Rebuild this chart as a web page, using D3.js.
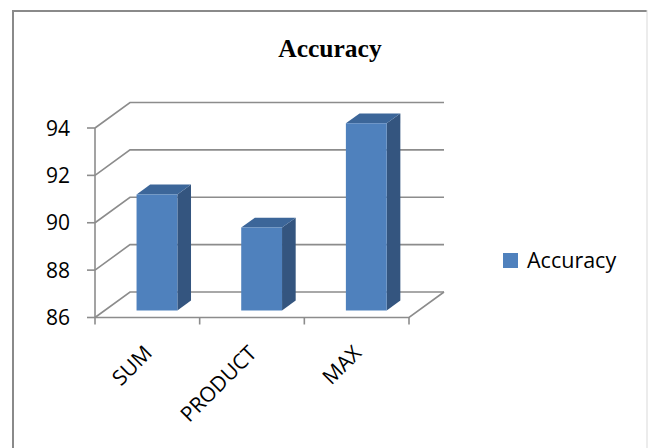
<!DOCTYPE html>
<html lang="en">
<meta charset="utf-8">
<title>Accuracy</title>
<style>
  body { margin: 0; background: #fff; }
  text { font-family: "Open Sans", "Liberation Sans", sans-serif; fill: #000; }
</style>
<body>
<script src="https://d3js.org/d3.v7.min.js"></script>
<script>
  // chart data
  var categories = ["SUM", "PRODUCT", "MAX"];
  var accuracy = [90.9, 89.5, 93.9];
  var yTicks = [86, 88, 90, 92, 94];
  var seriesName = "Accuracy";

  var width = 648, height = 448;

  // front plane of the 3d box
  var x = d3.scaleBand().domain(categories).range([95, 409]);
  var y = d3.scaleLinear().domain([86, 94]).range([317.5, 128]);

  // vector from the front plane to the back wall
  var depth = { dx: 35, dy: -25.5 };
  var barFront = 0.275, barBack = 0.665, barWidth = 0.39;

  function pt(px, py, f) {
    return [px + depth.dx * f, py + depth.dy * f];
  }

  var svg = d3.select("body").append("svg")
    .attr("width", width)
    .attr("height", height);

  // outer frame
  svg.append("line").attr("x1", 12).attr("x2", 647).attr("y1", 11).attr("y2", 11)
    .attr("stroke", "#8a8a8a").attr("stroke-width", 2);
  svg.append("line").attr("x1", 13).attr("x2", 13).attr("y1", 10).attr("y2", height)
    .attr("stroke", "#8a8a8a").attr("stroke-width", 2);
  svg.append("line").attr("x1", 647).attr("x2", 647).attr("y1", 10).attr("y2", height)
    .attr("stroke", "#d9d9d9").attr("stroke-width", 1);

  // title
  svg.append("text")
    .attr("x", 330).attr("y", 57)
    .attr("text-anchor", "middle")
    .style("font-family", "'Liberation Serif', 'Times New Roman', serif")
    .style("font-weight", "bold")
    .style("font-size", "25.5px")
    .text("Accuracy");

  var grid = svg.append("g")
    .attr("fill", "none")
    .attr("stroke", "#8c8c8c")
    .attr("stroke-width", 1.6);

  var x0 = x.range()[0], x1 = x.range()[1];

  // gridlines: diagonal on the side wall, then along the back wall
  yTicks.forEach(function(t) {
    var a = [x0, y(t)], b = pt(x0, y(t), 1), c = pt(x1, y(t), 1);
    grid.append("path").attr("d", d3.line()([a, b, c]));
  });

  // floor: front edge and right diagonal
  grid.append("path").attr("d", d3.line()([[x0, y(86)], [x1, y(86)], pt(x1, y(86), 1)]));

  // y axis line and ticks
  grid.append("path").attr("d", d3.line()([[x0, y(94)], [x0, y(86)]]));
  yTicks.forEach(function(t) {
    grid.append("path").attr("d", d3.line()([[x0 - 8, y(t)], [x0, y(t)]]));
  });

  // category ticks
  var catEdges = categories.map(function(c) { return x(c); }).concat([x1]);
  catEdges.forEach(function(e) {
    grid.append("path").attr("d", d3.line()([[e, y(86)], [e, y(86) + 7]]));
  });

  // y tick labels
  svg.append("g").selectAll("text")
    .data(yTicks)
    .join("text")
    .attr("x", 70)
    .attr("y", function(d) { return y(d); })
    .attr("dy", "0.36em")
    .attr("text-anchor", "end")
    .style("font-size", "21px")
    .text(function(d) { return d; });

  // category labels, rotated
  svg.append("g").selectAll("text")
    .data(categories)
    .join("text")
    .attr("text-anchor", "end")
    .attr("transform", function(d) {
      var cx = x(d) + x.bandwidth() / 2 + 6;
      return "translate(" + cx + "," + (y(86) + 37) + ") rotate(-45)";
    })
    .style("font-size", "21px")
    .text(function(d) { return d; });

  // 3d bars
  var bars = svg.append("g");
  categories.forEach(function(c, i) {
    var bw = x.bandwidth() * barWidth;
    var left = x(c) + (x.bandwidth() - bw) / 2;
    var right = left + bw;
    var top = y(accuracy[i]);
    var base = y(86);

    var fBL = pt(left, base, barFront), fBR = pt(right, base, barFront);
    var fTL = pt(left, top, barFront), fTR = pt(right, top, barFront);
    var bTL = pt(left, top, barBack), bTR = pt(right, top, barBack);
    var bBR = pt(right, base, barBack);

    // side face
    bars.append("path")
      .attr("d", d3.line()([fBR, fTR, bTR, bBR]) + "Z")
      .attr("fill", "#34557f");
    // top face
    bars.append("path")
      .attr("d", d3.line()([fTL, fTR, bTR, bTL]) + "Z")
      .attr("fill", "#3c6699");
    // front face
    bars.append("path")
      .attr("d", d3.line()([fBL, fBR, fTR, fTL]) + "Z")
      .attr("fill", "#4f81bd");
  });

  // legend
  var legend = svg.append("g").attr("transform", "translate(503,253)");
  legend.append("rect").attr("width", 15).attr("height", 15).attr("fill", "#4f81bd");
  legend.append("text")
    .attr("x", 24).attr("y", 7.5).attr("dy", "0.36em")
    .style("font-size", "21.5px")
    .text(seriesName);
</script>
</body>
